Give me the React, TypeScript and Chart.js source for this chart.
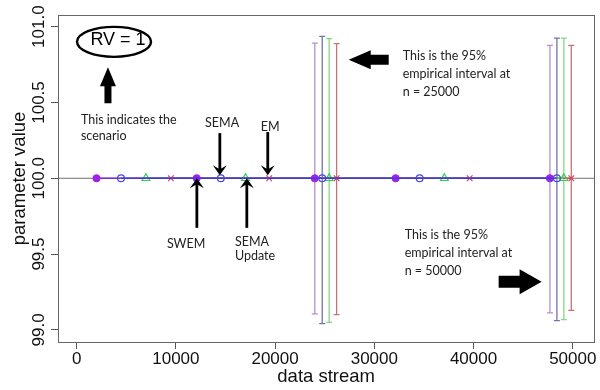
import React, { useEffect, useRef } from "react";
import { Chart, registerables } from "chart.js";

Chart.register(...registerables);

// ---- data ----
const xMin = -1880;
const xMax = 52170;
const yMin = 98.92;
const yMax = 101.077;
const xTicks = [0, 10000, 20000, 30000, 40000, 50000];
const yTicks = [99.0, 99.5, 100.0, 100.5, 101.0];
const trueValue = 100;

const swemX = [2000, 12100, 24000, 32150, 47700];
const swemY = [100, 100, 100, 100, 100];
const semaX = [4470, 14530, 24750, 34570, 48400];
const semaY = [100, 100, 100, 100, 100];
const semaUpdX = [6980, 17020, 25450, 37060, 49100];
const semaUpdY = [100, 100, 100, 100, 100];
const emX = [9500, 19400, 26200, 39610, 49850];
const emY = [100, 100, 100, 100, 100];

// 95% empirical intervals: [x, lower, upper]
const swemIntervals = [
  [24000, 99.105, 100.892],
  [47700, 99.112, 100.877],
];
const semaIntervals = [
  [24750, 99.041, 100.936],
  [48400, 99.061, 100.925],
];
const semaUpdIntervals = [
  [25450, 99.05, 100.921],
  [49100, 99.068, 100.925],
];
const emIntervals = [
  [26200, 99.1, 100.888],
  [49850, 99.129, 100.877],
];

const FONT = "'Liberation Sans', Arial, sans-serif";
const NOTE_FONT = "12.5px Lato, 'Open Sans', sans-serif";

const pts = (xs: number[], ys: number[]) => xs.map((x, i) => ({ x, y: ys[i] }));

function intervalSets(iv: number[][], color: string) {
  return iv.map((r) => ({
    type: "line" as const,
    data: [
      { x: r[0], y: r[1] },
      { x: r[0], y: r[2] },
    ],
    borderColor: color,
    borderWidth: 1.3,
    pointStyle: "line" as const,
    pointRadius: 3,
    pointBorderColor: color,
    pointBorderWidth: 1.3,
    showLine: true,
    order: 5,
  }));
}

function arrowPoly(
  ctx: CanvasRenderingContext2D,
  tipX: number,
  tipY: number,
  tailX: number,
  tailY: number,
  headLen: number,
  headW: number,
  shaftW: number
) {
  const dx = tipX - tailX;
  const dy = tipY - tailY;
  const len = Math.hypot(dx, dy);
  const ux = dx / len;
  const uy = dy / len;
  const px = -uy;
  const py = ux;
  const bx = tipX - ux * headLen;
  const by = tipY - uy * headLen;
  ctx.beginPath();
  ctx.moveTo(tailX + px * shaftW / 2, tailY + py * shaftW / 2);
  ctx.lineTo(bx + px * shaftW / 2, by + py * shaftW / 2);
  ctx.lineTo(bx + px * headW / 2, by + py * headW / 2);
  ctx.lineTo(tipX, tipY);
  ctx.lineTo(bx - px * headW / 2, by - py * headW / 2);
  ctx.lineTo(bx - px * shaftW / 2, by - py * shaftW / 2);
  ctx.lineTo(tailX - px * shaftW / 2, tailY - py * shaftW / 2);
  ctx.closePath();
  ctx.fill();
}

function thinArrow(
  ctx: CanvasRenderingContext2D,
  tipX: number,
  tipY: number,
  tailX: number,
  tailY: number
) {
  const dx = tipX - tailX;
  const dy = tipY - tailY;
  const len = Math.hypot(dx, dy);
  const ux = dx / len;
  const uy = dy / len;
  const px = -uy;
  const py = ux;
  ctx.lineWidth = 2.8;
  ctx.lineCap = "butt";
  ctx.beginPath();
  ctx.moveTo(tailX, tailY);
  ctx.lineTo(tipX - ux * 3, tipY - uy * 3);
  ctx.stroke();
  const hl = 10;
  const hw = 14;
  ctx.beginPath();
  ctx.moveTo(tipX, tipY);
  ctx.lineTo(tipX - ux * hl + px * hw / 2, tipY - uy * hl + py * hw / 2);
  ctx.lineTo(tipX - ux * (hl - 3.5) + px * 1, tipY - uy * (hl - 3.5) + py * 1);
  ctx.lineTo(tipX - ux * (hl - 3.5) - px * 1, tipY - uy * (hl - 3.5) - py * 1);
  ctx.lineTo(tipX - ux * hl - px * hw / 2, tipY - uy * hl - py * hw / 2);
  ctx.closePath();
  ctx.fill();
}

const notesPlugin = {
  id: "notes",
  afterDatasetsDraw(chart: any) {
    const { ctx, chartArea, scales } = chart;
    const X = (v: number) => scales.x.getPixelForValue(v);
    const Y = (v: number) => scales.y.getPixelForValue(v);
    ctx.save();
    // box
    ctx.strokeStyle = "#666";
    ctx.lineWidth = 1;
    ctx.strokeRect(
      Math.round(chartArea.left) + 0.5,
      Math.round(chartArea.top) + 0.5,
      Math.round(chartArea.right - chartArea.left),
      Math.round(chartArea.bottom - chartArea.top)
    );
    ctx.fillStyle = "#000";
    ctx.strokeStyle = "#000";

    // RV = 1 ellipse
    ctx.lineWidth = 2.4;
    ctx.beginPath();
    ctx.ellipse(X(3766), Y(100.9), 37, 15, 0, 0, Math.PI * 2);
    ctx.stroke();
    ctx.font = `18px ${FONT}`;
    ctx.textAlign = "center";
    ctx.textBaseline = "middle";
    ctx.fillText("RV = 1", X(4170), Y(100.915));

    // big up arrow
    arrowPoly(ctx, X(3155), Y(100.732), X(3155), Y(100.495), 19, 16, 7);

    ctx.font = NOTE_FONT;
    ctx.fillStyle = "#222";
    ctx.textAlign = "left";
    ctx.textBaseline = "alphabetic";
    ctx.fillText("This indicates the", X(433), Y(100.357));
    ctx.fillText("scenario", X(433), Y(100.252));

    ctx.fillText("SEMA", X(12940), Y(100.338));
    ctx.fillText("EM", X(18560), Y(100.311));
    ctx.fillText("SWEM", X(9093), Y(99.541));
    ctx.fillText("SEMA", X(15950), Y(99.554));
    ctx.fillText("Update", X(15950), Y(99.462));

    ctx.fillText("This is the 95%", X(32860), Y(100.778));
    ctx.fillText("empirical interval at", X(32860), Y(100.66));
    ctx.fillText("n = 25000", X(32860), Y(100.541));

    ctx.fillText("This is the 95%", X(33060), Y(99.601));
    ctx.fillText("empirical interval at", X(33060), Y(99.483));
    ctx.fillText("n = 50000", X(33060), Y(99.365));

    ctx.fillStyle = "#000";
    ctx.strokeStyle = "#000";
    thinArrow(ctx, X(14430), Y(100.02), X(14430), Y(100.298));
    thinArrow(ctx, X(19260), Y(100.02), X(19260), Y(100.305));
    thinArrow(ctx, X(12115), Y(100.0), X(12115), Y(99.673));
    thinArrow(ctx, X(17150), Y(100.0), X(17150), Y(99.673));

    // big horizontal arrows
    arrowPoly(ctx, X(27420), Y(100.782), X(31450), Y(100.782), 22, 19, 10);
    arrowPoly(ctx, X(46860), Y(99.318), X(42530), Y(99.318), 22, 25, 12);

    ctx.restore();
  },
};

export default function App() {
  const ref = useRef<HTMLCanvasElement | null>(null);

  useEffect(() => {
    if (!ref.current) return;
    const tickFont = { family: FONT, size: 17 };
    const chart = new Chart(ref.current, {
      type: "line",
      data: {
        datasets: [
          {
            data: [
              { x: xMin, y: trueValue },
              { x: xMax, y: trueValue },
            ],
            borderColor: "#707070",
            borderWidth: 1,
            pointRadius: 0,
            order: 10,
          },
          ...intervalSets(swemIntervals, "#b490cc"),
          ...intervalSets(semaIntervals, "#7474aa"),
          ...intervalSets(semaUpdIntervals, "#84d884"),
          ...intervalSets(emIntervals, "#c47474"),
          {
            data: pts(emX, emY),
            borderColor: "#d8405a",
            borderWidth: 1.4,
            pointStyle: "crossRot",
            pointRadius: 4,
            pointBorderColor: "#e03c5a",
            pointBorderWidth: 1.2,
            order: 4,
          },
          {
            data: pts(semaUpdX, semaUpdY),
            borderColor: "#44cc66",
            borderWidth: 1.4,
            pointStyle: "triangle",
            pointRadius: 4.5,
            pointBorderColor: "#33d04a",
            pointBackgroundColor: "rgba(0,0,0,0)",
            pointBorderWidth: 1.2,
            order: 3,
          },
          {
            data: pts(swemX, swemY),
            borderColor: "#7a2ad0",
            borderWidth: 1.6,
            pointStyle: "circle",
            pointRadius: 3.6,
            pointBorderColor: "#a020f0",
            pointBackgroundColor: "#a020f0",
            pointBorderWidth: 1,
            order: 2,
          },
          {
            data: pts(semaX, semaY),
            borderColor: "rgba(60,60,210,0.85)",
            borderWidth: 1.6,
            pointStyle: "circle",
            pointRadius: 3.4,
            pointBorderColor: "#4848d8",
            pointBackgroundColor: "rgba(0,0,0,0)",
            pointBorderWidth: 1.2,
            order: 1,
          },
        ],
      },
      options: {
        responsive: false,
        animation: false,
        devicePixelRatio: 1,
        layout: { padding: { top: 15, right: 5, left: 0, bottom: 0 } },
        plugins: {
          legend: { display: false },
          tooltip: { enabled: false },
        },
        elements: { line: { tension: 0 } },
        scales: {
          x: {
            type: "linear",
            min: xMin,
            max: xMax,
            afterBuildTicks: (s: any) => {
              s.ticks = xTicks.map((v) => ({ value: v }));
            },
            afterFit: (s: any) => {
              s.height = 48;
            },
            grid: {
              drawOnChartArea: false,
              drawTicks: true,
              tickLength: 7,
              color: "#555",
            },
            border: { display: true, color: "#555" },
            ticks: {
              font: tickFont,
              color: "#111",
              padding: 0,
              maxRotation: 0,
              autoSkip: false,
              callback: (v: any) => String(v),
            },
            title: {
              display: true,
              text: "data stream",
              font: { family: FONT, size: 18.5 },
              color: "#111",
              padding: { top: 0, bottom: 2.4 },
            },
          },
          y: {
            type: "linear",
            min: yMin,
            max: yMax,
            afterBuildTicks: (s: any) => {
              s.ticks = yTicks.map((v) => ({ value: v }));
            },
            afterFit: (s: any) => {
              s.width = 58;
            },
            grid: {
              drawOnChartArea: false,
              drawTicks: true,
              tickLength: 7,
              color: "#555",
            },
            border: { display: true, color: "#555" },
            ticks: {
              font: tickFont,
              color: "#111",
              padding: -10,
              minRotation: 90,
              maxRotation: 90,
              crossAlign: "center",
              autoSkip: false,
              callback: (v: any) => Number(v).toFixed(1),
            },
            title: {
              display: true,
              text: "parameter value",
              font: { family: FONT, size: 18.5 },
              color: "#111",
              padding: { top: 9, bottom: 0 },
            },
          },
        },
      },
      plugins: [notesPlugin],
    } as any);
    return () => chart.destroy();
  }, []);

  return (
    <div style={{ position: "fixed", left: 0, top: 0, width: 600, height: 390, background: "#fff" }}>
      <canvas ref={ref} width={600} height={390} />
    </div>
  );
}
